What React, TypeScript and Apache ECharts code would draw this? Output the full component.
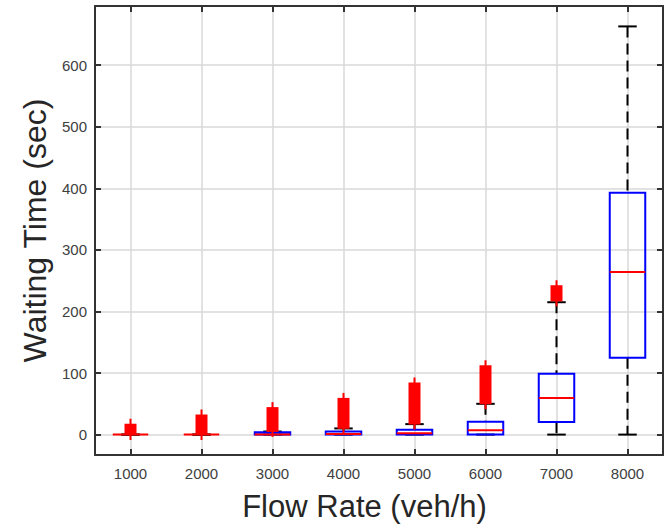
import React, { useEffect, useRef } from 'react';
import * as echarts from 'echarts';

const categories = ['1000', '2000', '3000', '4000', '5000', '6000', '7000', '8000'];
const whiskerLow = [0, 0, 0, 0, 0, 0, 0, 0];
const q1 = [0, 0, 0, 0, 0, 0, 20.5, 125];
const median = [0, 0, 0, 1, 2, 7, 59.5, 264];
const q3 = [0, 0, 4, 5, 8, 21, 99, 393];
const whiskerHigh = [0, 0, 5, 10, 17, 50, 215, 663];
const outlierLow: (number | null)[] = [1, 1, 6, 11, 18, 51, 218, null];
const outlierHigh: (number | null)[] = [16, 31, 43, 58, 83, 111, 241, null];
const yTickValues = [0, 100, 200, 300, 400, 500, 600];
const yMin = -33.15;
const yMax = 696.15;

const FONT = '"Liberation Sans", Arial, Helvetica, sans-serif';
const FRAME = '#333333';

export default function App() {
  const ref = useRef<HTMLDivElement>(null);
  useEffect(() => {
    if (!ref.current) return;
    const chart = echarts.init(ref.current, undefined, { renderer: 'svg' });

    const boxData = categories.map((_, i) => [i, whiskerLow[i], q1[i], median[i], q3[i], whiskerHigh[i]]);
    const outData: number[][] = [];
    categories.forEach((_, i) => {
      if (outlierLow[i] != null && outlierHigh[i] != null) outData.push([i, outlierLow[i] as number, outlierHigh[i] as number]);
    });

    const labelFmt = (v: number) => (yTickValues.some((t) => Math.abs(t - v) < 1e-6) ? String(Math.round(v)) : '');

    const xCommon = {
      type: 'category',
      data: categories,
      boundaryGap: true,
      axisLine: { show: true, onZero: false, lineStyle: { color: FRAME, width: 2 } },
      axisTick: { show: true, inside: true, alignWithLabel: true, length: 6, lineStyle: { color: FRAME, width: 2 } },
    };
    const yCommon = {
      type: 'value',
      min: yMin,
      max: yMax,
      splitNumber: 7,
      axisLine: { show: true, onZero: false, lineStyle: { color: FRAME, width: 2 } },
      axisTick: { show: true, inside: true, length: 6, lineStyle: { color: FRAME, width: 2 } },
    };

    chart.setOption({
      animation: false,
      backgroundColor: '#ffffff',
      grid: { left: 95, right: 6, top: 6, bottom: 73, containLabel: false },
      xAxis: [
        {
          ...xCommon,
          position: 'bottom',
          name: 'Flow Rate (veh/h)',
          nameLocation: 'middle',
          nameGap: 36,
          nameTextStyle: { fontFamily: FONT, fontSize: 31, color: '#262626', padding: [0, 29, 0, 0] },
          axisLabel: { show: true, margin: 11, fontFamily: FONT, fontSize: 15, color: '#404040' },
          splitLine: { show: true, alignWithLabel: true, lineStyle: { color: '#d9d9d9', width: 1.5 } },
        },
        {
          ...xCommon,
          position: 'top',
          axisLabel: { show: false },
          splitLine: { show: false },
        },
      ],
      yAxis: [
        {
          ...yCommon,
          position: 'left',
          name: 'Waiting Time (sec)',
          nameLocation: 'middle',
          nameGap: 42,
          nameTextStyle: { fontFamily: FONT, fontSize: 32, color: '#262626' },
          axisLabel: { show: true, margin: 8, fontFamily: FONT, fontSize: 15, color: '#404040', formatter: labelFmt },
          splitLine: { show: true, lineStyle: { color: '#d9d9d9', width: 1.5 } },
        },
        {
          ...yCommon,
          position: 'right',
          axisLabel: { show: false },
          splitLine: { show: false },
        },
      ],
      series: [
        {
          type: 'custom',
          xAxisIndex: 0,
          yAxisIndex: 0,
          data: boxData,
          encode: { x: 0, y: [1, 2, 3, 4, 5] },
          renderItem: (params: any, api: any) => {
            const i = api.value(0);
            const pLow = api.coord([i, api.value(1)]);
            const pQ1 = api.coord([i, api.value(2)]);
            const pMed = api.coord([i, api.value(3)]);
            const pQ3 = api.coord([i, api.value(4)]);
            const pHigh = api.coord([i, api.value(5)]);
            const band = api.size([1, 0])[0];
            const x = pLow[0];
            const boxW = band * 0.5;
            const capW = band * 0.26;
            const children: any[] = [];
            if (pQ3[1] - pHigh[1] > 0.5) {
              children.push({
                type: 'line',
                shape: { x1: x, y1: pHigh[1], x2: x, y2: pQ3[1] },
                style: { stroke: '#000000', lineWidth: 2, lineDash: [11, 6] },
              });
            }
            if (pLow[1] - pQ1[1] > 0.5) {
              children.push({
                type: 'line',
                shape: { x1: x, y1: pQ1[1], x2: x, y2: pLow[1] },
                style: { stroke: '#000000', lineWidth: 2, lineDash: [11, 6] },
              });
            }
            children.push({
              type: 'line',
              shape: { x1: x - capW / 2, y1: pHigh[1], x2: x + capW / 2, y2: pHigh[1] },
              style: { stroke: '#000000', lineWidth: 2 },
            });
            children.push({
              type: 'line',
              shape: { x1: x - capW / 2, y1: pLow[1], x2: x + capW / 2, y2: pLow[1] },
              style: { stroke: '#000000', lineWidth: 2 },
            });
            if (pQ1[1] - pQ3[1] > 0.5) {
              children.push({
                type: 'rect',
                shape: { x: x - boxW / 2, y: pQ3[1], width: boxW, height: pQ1[1] - pQ3[1] },
                style: { fill: 'none', stroke: '#0000ff', lineWidth: 2 },
              });
            }
            children.push({
              type: 'line',
              shape: { x1: x - boxW / 2, y1: pMed[1], x2: x + boxW / 2, y2: pMed[1] },
              style: { stroke: '#ff0000', lineWidth: 2 },
            });
            return { type: 'group', children };
          },
          z: 2,
        },
        {
          type: 'custom',
          xAxisIndex: 0,
          yAxisIndex: 0,
          data: outData,
          encode: { x: 0, y: [1, 2] },
          renderItem: (params: any, api: any) => {
            const i = api.value(0);
            const pLo = api.coord([i, api.value(1)]);
            const pHi = api.coord([i, api.value(2)]);
            const x = pLo[0];
            const arm = 6;
            return {
              type: 'group',
              children: [
                {
                  type: 'rect',
                  shape: { x: x - arm, y: pHi[1] - 1, width: arm * 2, height: pLo[1] - pHi[1] + 2 },
                  style: { fill: '#ff0000' },
                },
                {
                  type: 'line',
                  shape: { x1: x, y1: pHi[1] - arm, x2: x, y2: pLo[1] + arm },
                  style: { stroke: '#ff0000', lineWidth: 2 },
                },
              ],
            };
          },
          z: 3,
        },
      ],
    });
    return () => chart.dispose();
  }, []);
  return <div ref={ref} style={{ position: 'fixed', left: 0, top: 0, width: 669, height: 528 }} />;
}
